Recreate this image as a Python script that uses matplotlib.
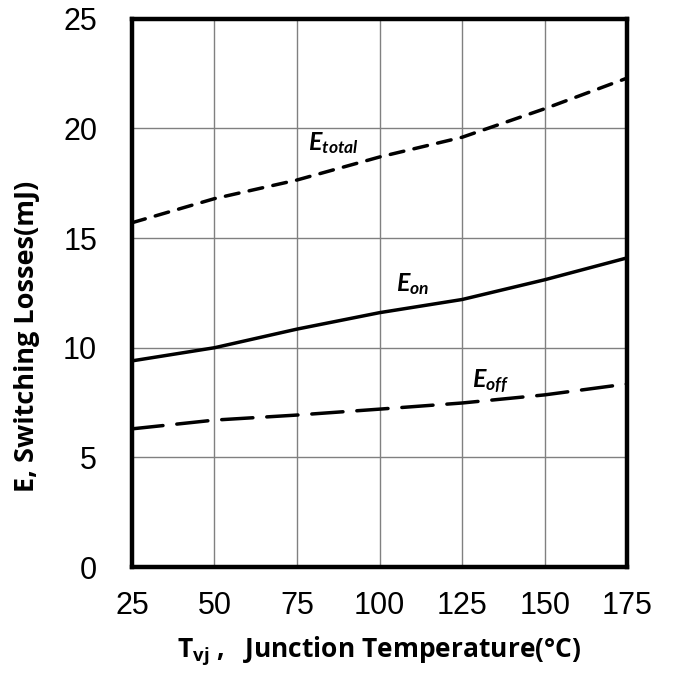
import matplotlib
matplotlib.use("Agg")
import matplotlib.pyplot as plt

temps = [25, 50, 75, 100, 125, 150, 175]
e_total = [15.7, 16.8, 17.65, 18.7, 19.6, 20.9, 22.3]
e_on = [9.4, 10.0, 10.85, 11.6, 12.2, 13.1, 14.1]
e_off = [6.3, 6.7, 6.93, 7.2, 7.48, 7.85, 8.35]
x_ticks = [25, 50, 75, 100, 125, 150, 175]
y_ticks = [0, 5, 10, 15, 20, 25]

plt.rcParams['mathtext.fontset'] = 'custom'
plt.rcParams['mathtext.rm'] = 'Open Sans'
plt.rcParams['mathtext.it'] = 'Lato:italic'
plt.rcParams['mathtext.bf'] = 'Open Sans:bold'
plt.rcParams['mathtext.bfit'] = 'Lato:bold:italic'

fig = plt.figure(figsize=(6.73, 6.73), dpi=100)
ax = fig.add_axes([0.196, 0.1575, 0.736, 0.8145])

ax.plot(temps, e_total, color='black', lw=2.5, dashes=(4, 3), dash_capstyle='round', zorder=3)
ax.plot(temps, e_on, color='black', lw=2.5, solid_capstyle='round', zorder=3)
ax.plot(temps, e_off, color='black', lw=2.5, dashes=(9, 4), dash_capstyle='round', zorder=3)

ax.set_xlim(25, 175)
ax.set_ylim(0, 25)
ax.set_xticks(x_ticks)
ax.set_yticks(y_ticks)
ax.set_xticklabels([str(v) for v in x_ticks], fontname='Liberation Sans', fontsize=22)
ax.set_yticklabels([str(v) for v in y_ticks], fontname='Liberation Sans', fontsize=22)
ax.tick_params(length=0)
ax.tick_params(axis='x', pad=17)
ax.tick_params(axis='y', pad=25)
ax.grid(True, color='#808080', lw=1)
ax.set_axisbelow(True)
for s in ax.spines.values():
    s.set_linewidth(3.2)

ax.set_xlabel(r'$\mathbf{T_{vj}}$ ,   Junction Temperature(°C)', fontname='Open Sans',
              fontweight='bold', fontsize=19, labelpad=10)
ax.set_ylabel('E, Switching Losses(mJ)', fontname='Open Sans', fontweight='bold',
              fontsize=19.5)
ax.yaxis.set_label_coords(-0.185, 0.42)

ax.text(86, 19.35, r'$\mathbfit{E_{total}}$', fontsize=18, ha='center', va='center')
ax.text(110, 12.9, r'$\mathbfit{E_{on}}$', fontsize=18, ha='center', va='center')
ax.text(133.5, 8.5, r'$\mathbfit{E_{off}}$', fontsize=18, ha='center', va='center')

fig.savefig('out.png', dpi=100)
